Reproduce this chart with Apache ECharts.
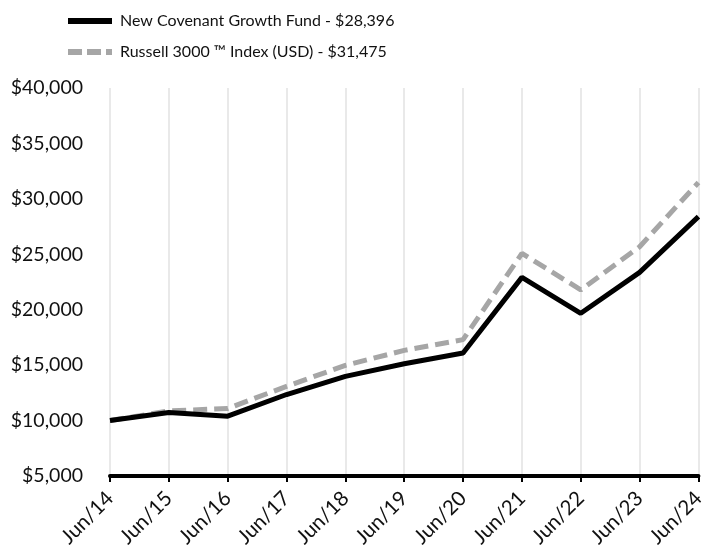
<!DOCTYPE html>
<html>
<head>
<meta charset="utf-8">
<script src="https://cdn.jsdelivr.net/npm/echarts@6/dist/echarts.min.js"></script>
<style>html,body{margin:0;padding:0;background:#fff}#c{width:708px;height:556px}</style>
</head>
<body>
<div id="c"></div>
<script>
var categories = ["Jun/14","Jun/15","Jun/16","Jun/17","Jun/18","Jun/19","Jun/20","Jun/21","Jun/22","Jun/23","Jun/24"];
var fundName = "New Covenant Growth Fund - $28,396";
var fundValues = [10000,10730,10400,12350,13990,15130,16090,22920,19680,23370,28396];
var indexName = "Russell 3000 \u2122 Index (USD) - $31,475";
var indexValues = [10000,10870,11090,13090,14980,16330,17300,25080,21790,25680,31475];

var FONT = "Lato";
var chart = echarts.init(document.getElementById('c'), null, {renderer:'canvas'});
chart.setOption({
  animation:false,
  textStyle:{fontFamily:FONT},
  legend:{
    orient:'vertical', left:63, top:8, itemWidth:44, itemHeight:6, itemGap:15,
    textStyle:{fontFamily:FONT, fontSize:16, color:'#111', padding:[0,0,0,3]},
    data:[
      {name:fundName, icon:'path://M0,0H44V6H0Z'},
      {name:indexName, icon:'path://M0,0H14V6H0Z M19,0H33V6H19Z M38,0H44V6H38Z'}
    ]
  },
  grid:{left:110, right:4, top:88, bottom:80, containLabel:false},
  xAxis:{
    type:'category', boundaryGap:false, data:categories,
    axisLine:{lineStyle:{color:'#000', width:4}},
    axisTick:{show:true, alignWithLabel:true, length:6, lineStyle:{color:'#000', width:2}},
    axisLabel:{rotate:45, fontSize:20.5, color:'#111', fontFamily:FONT, margin:19},
    splitLine:{show:true, lineStyle:{color:'#e2e2e2', width:1.5}}
  },
  yAxis:{
    type:'value', min:5000, max:40000, interval:5000,
    axisLine:{show:false}, axisTick:{show:false}, splitLine:{show:false},
    axisLabel:{fontSize:19.5, color:'#111', fontFamily:FONT, margin:27,
      formatter:function(v){return '$'+v.toLocaleString('en-US');}}
  },
  series:[
    {name:fundName, type:'line', data:fundValues, symbol:'none', z:3,
     lineStyle:{color:'#000', width:5}, itemStyle:{color:'#000'}},
    {name:indexName, type:'line', data:indexValues, symbol:'none', z:2,
     lineStyle:{color:'#a6a6a6', width:5, type:[14,7]}, itemStyle:{color:'#a6a6a6'}}
  ]
});
</script>
</body>
</html>
